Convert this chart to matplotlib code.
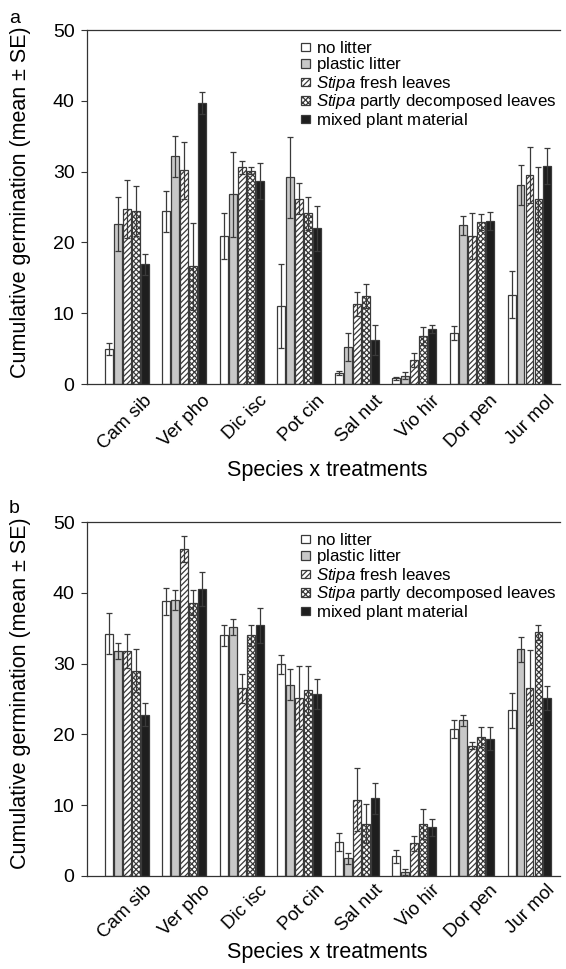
import matplotlib
matplotlib.use("Agg")
import matplotlib.pyplot as plt
import matplotlib.transforms as mtransforms
import numpy as np

plt.rcParams['font.family'] = ['Liberation Sans', 'DejaVu Sans']
plt.rcParams['mathtext.fontset'] = 'custom'
plt.rcParams['mathtext.it'] = 'Liberation Sans:italic'
plt.rcParams['mathtext.rm'] = 'Liberation Sans'
plt.rcParams['hatch.linewidth'] = 0.9

species = ['Cam sib', 'Ver pho', 'Dic isc', 'Pot cin', 'Sal nut', 'Vio hir', 'Dor pen', 'Jur mol']
treatments = [r'$\mathregular{no\ litter}$',
              r'$\mathregular{plastic\ litter}$',
              r'$\mathit{Stipa}\mathregular{\ fresh\ leaves}$',
              r'$\mathit{Stipa}\mathregular{\ partly\ decomposed\ leaves}$',
              r'$\mathregular{mixed\ plant\ material}$']

# panel a: means and SE per treatment (rows) over species (columns)
a_mean = [
    [5.0, 24.4, 20.9, 11.0, 1.6, 0.8, 7.2, 12.6],
    [22.6, 32.2, 26.8, 29.2, 5.2, 1.2, 22.4, 28.1],
    [24.7, 30.2, 30.6, 26.2, 11.3, 3.4, 20.9, 29.5],
    [24.4, 16.6, 30.1, 24.1, 12.4, 6.8, 22.9, 26.1],
    [16.9, 39.7, 28.7, 22.0, 6.2, 7.8, 23.0, 30.8],
]
a_se = [
    [0.85, 2.9, 3.2, 5.9, 0.3, 0.25, 1.0, 3.3],
    [3.8, 2.9, 6.0, 5.7, 2.0, 0.5, 1.4, 2.8],
    [4.1, 4.0, 0.9, 2.2, 1.7, 1.0, 3.3, 4.0],
    [3.5, 6.1, 0.5, 2.3, 1.7, 1.3, 1.1, 4.6],
    [1.5, 1.6, 2.5, 3.2, 2.1, 0.6, 1.3, 2.5],
]

# panel b
b_mean = [
    [34.2, 38.8, 34.0, 29.9, 4.8, 2.8, 20.8, 23.4],
    [31.8, 39.0, 35.2, 27.0, 2.5, 0.6, 22.0, 32.0],
    [31.8, 46.2, 26.5, 25.2, 10.8, 4.6, 18.4, 26.6],
    [29.0, 38.6, 34.0, 26.2, 7.4, 7.3, 19.6, 34.4],
    [22.8, 40.6, 35.4, 25.7, 11.0, 6.9, 19.4, 25.1],
]
b_se = [
    [2.9, 1.9, 1.5, 1.3, 1.3, 0.9, 1.3, 2.5],
    [1.1, 1.4, 1.1, 2.2, 0.8, 0.4, 0.75, 1.8],
    [2.4, 1.8, 2.0, 4.4, 4.4, 1.1, 0.5, 5.3],
    [3.0, 1.8, 1.5, 3.4, 2.7, 2.1, 1.4, 1.1],
    [1.6, 2.4, 2.5, 2.1, 2.2, 1.2, 1.65, 1.7],
]

faces = ['white', '#c8c8c8', 'white', 'white', '#1e1e1e']
hatches = [None, None, '//////', 'xxxxxx', None]
edge = '#3a3a3a'

fig = plt.figure(figsize=(5.66, 9.69), dpi=100)
ax_a = fig.add_axes([0.1537, 0.6037, 0.8357, 0.3653])
ax_b = fig.add_axes([0.1537, 0.0960, 0.8357, 0.3653])

x = np.arange(len(species))
pitch = 0.156
width = 0.138
shift = mtransforms.ScaledTranslation(0.17, 0, fig.dpi_scale_trans)

panels = [(ax_a, a_mean, a_se, 'a', 0.990, -0.243, 6),
          (ax_b, b_mean, b_se, 'b', 0.484, -0.217, 4)]
for ax, means, ses, lab, ly, xly, xpad in panels:
    for i in range(5):
        pos = x + (i - 2) * pitch
        ax.bar(pos, means[i], width, color=faces[i], edgecolor=edge, linewidth=0.9,
               hatch=hatches[i], label=treatments[i], zorder=2)
        ax.errorbar(pos, means[i], yerr=ses[i], fmt='none', ecolor=edge,
                    elinewidth=0.9, capsize=2.5, capthick=0.9, zorder=3)
    ax.set_xlim(-0.69, 7.53)
    ax.set_ylim(0, 50)
    ax.set_yticks([0, 10, 20, 30, 40, 50])
    ax.tick_params(axis='y', labelsize=14, length=4, direction='out', color='#333333', pad=5)
    ax.tick_params(axis='x', length=0, labelsize=13.5, pad=xpad)
    ax.set_xticks(x)
    ax.set_xticklabels(species, rotation=45, ha='right', rotation_mode='anchor')
    for t in ax.get_xticklabels():
        t.set_transform(t.get_transform() + shift)
    ax.spines['right'].set_visible(False)
    for s in ['top', 'left', 'bottom']:
        ax.spines[s].set_color('#333333')
        ax.spines[s].set_linewidth(0.9)
    ax.set_ylabel('Cumulative germination (mean ± SE)', fontsize=15.5, va='center')
    ax.yaxis.set_label_coords(-0.14, 0.515)
    ax.set_xlabel('Species x treatments', fontsize=15.5, va='center')
    ax.xaxis.set_label_coords(0.508, xly)
    ax.legend(loc='upper left', bbox_to_anchor=(0.453, 0.972), frameon=False, fontsize=12.2,
              handlelength=0.5, handleheight=0.4, handletextpad=0.35, labelspacing=-0.03,
              borderaxespad=0.0, borderpad=0.0)
    fig.text(0.016, ly, lab, fontsize=14, va='top')

fig.savefig('out.png', dpi=100)
